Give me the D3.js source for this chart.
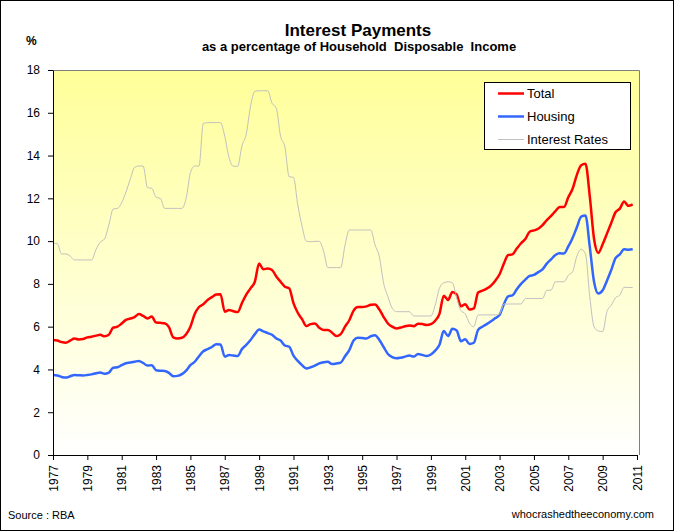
<!DOCTYPE html>
<html>
<head>
<meta charset="utf-8">
<script src="https://cdn.jsdelivr.net/npm/d3@7"></script>
<style>
body { margin: 0; background: #fff; }
svg { display: block; font-family: "Liberation Sans", Arial, sans-serif; }
</style>
</head>
<body>
<svg width="674" height="531"></svg>
<script>
// quarterly values, one row per year, starting 1977 Q1
var startYear = 1977

var total = [
    5.38, 5.35, 5.28, 5.25,   // 1977
    5.35, 5.45, 5.40, 5.42,
    5.50, 5.53, 5.58, 5.62,
    5.55, 5.62, 5.95, 6.00,   // 1980
    6.15, 6.32, 6.38, 6.45,
    6.59, 6.50, 6.38, 6.47,
    6.19, 6.18, 6.16, 5.98,
    5.50, 5.45, 5.48, 5.65,
    6.00, 6.59, 6.92, 7.05,   // 1985
    7.25, 7.38, 7.50, 7.52,
    6.70, 6.78, 6.72, 6.68,
    7.10, 7.50, 7.79, 8.10,
    8.95, 8.68, 8.72, 8.65,
    8.35, 8.10, 7.87, 7.80,   // 1990
    7.10, 6.65, 6.35, 6.03,
    6.12, 6.15, 5.95, 5.85,
    5.85, 5.72, 5.56, 5.65,
    6.00, 6.30, 6.75, 6.92,
    6.92, 6.95, 7.02, 7.04,   // 1995
    6.80, 6.45, 6.15, 6.00,
    5.92, 5.96, 6.02, 6.06,
    6.02, 6.14, 6.12, 6.08,
    6.12, 6.28, 6.60, 7.45,
    7.25, 7.62, 7.50, 6.95,   // 2000
    7.05, 6.80, 6.85, 7.60,
    7.68, 7.78, 7.92, 8.15,
    8.45, 8.95, 9.35, 9.38,
    9.65, 9.90, 10.10, 10.44,
    10.50, 10.58, 10.75, 10.98, // 2005
    11.18, 11.40, 11.60, 11.60,
    12.05, 12.45, 13.10, 13.55,
    13.62, 12.10, 10.10, 9.45,
    9.85, 10.35, 10.85, 11.35,
    11.52, 11.85, 11.65, 11.72  // 2010
]

var housing = [
    3.74, 3.72, 3.65, 3.62,   // 1977
    3.68, 3.74, 3.73, 3.72,
    3.74, 3.77, 3.82, 3.86,
    3.80, 3.85, 4.08, 4.10,   // 1980
    4.20, 4.29, 4.32, 4.36,
    4.40, 4.30, 4.18, 4.20,
    3.96, 3.94, 3.93, 3.84,
    3.68, 3.70, 3.78, 3.95,
    4.20, 4.36, 4.62, 4.85,   // 1985
    4.95, 5.05, 5.18, 5.17,
    4.60, 4.67, 4.65, 4.63,
    4.95, 5.15, 5.38, 5.65,
    5.87, 5.78, 5.70, 5.62,
    5.45, 5.35, 5.12, 5.06,   // 1990
    4.65, 4.40, 4.20, 4.05,
    4.10, 4.18, 4.28, 4.34,
    4.36, 4.25, 4.28, 4.32,
    4.62, 4.90, 5.35, 5.48,
    5.47, 5.45, 5.55, 5.60,   // 1995
    5.38, 5.05, 4.72, 4.58,
    4.52, 4.55, 4.60, 4.65,
    4.60, 4.72, 4.68, 4.63,
    4.70, 4.88, 5.15, 5.80,
    5.56, 5.90, 5.82, 5.32,   // 2000
    5.41, 5.19, 5.25, 5.85,
    6.00, 6.12, 6.25, 6.40,
    6.55, 7.05, 7.42, 7.46,
    7.75, 8.00, 8.20, 8.37,
    8.42, 8.55, 8.68, 8.95,   // 2005
    9.15, 9.35, 9.43, 9.42,
    9.75, 10.15, 10.65, 11.15,
    11.20, 9.74, 8.10, 7.55,
    7.70, 8.15, 8.65, 9.20,
    9.38, 9.62, 9.60, 9.62    // 2010
]

var rates = [
    9.90, 9.88, 9.40, 9.40,   // 1977
    9.30, 9.12, 9.12, 9.12,
    9.12, 9.12, 9.60, 9.95,
    10.10, 10.75, 11.50, 11.53, // 1980
    11.80, 12.30, 12.90, 13.45,
    13.51, 13.51, 12.50, 12.47,
    12.05, 12.00, 11.53, 11.53,
    11.53, 11.53, 11.53, 12.00,
    13.20, 13.51, 13.51, 15.50, // 1985
    15.54, 15.54, 15.54, 15.54,
    14.90, 13.90, 13.50, 13.50,
    14.45, 15.00, 16.30, 17.00,
    17.03, 17.03, 17.03, 16.45,
    16.21, 14.90, 14.41, 13.01, // 1990
    12.98, 11.70, 10.70, 10.00,
    9.97, 9.99, 9.99, 9.55,
    8.76, 8.76, 8.76, 8.76,
    9.80, 10.52, 10.52, 10.52,
    10.52, 10.52, 10.52, 9.82,  // 1995
    9.27, 8.03, 7.40, 6.86,
    6.70, 6.70, 6.70, 6.70,
    6.50, 6.50, 6.50, 6.50,
    6.50, 7.00, 7.80, 8.05,
    8.10, 8.05, 7.35, 6.75,    // 2000
    6.60, 6.15, 6.00, 6.55,
    6.55, 6.55, 6.55, 6.55,
    6.59, 7.06, 7.06, 7.06,
    7.06, 7.06, 7.32, 7.32,
    7.32, 7.32, 7.32, 7.70,    // 2005
    7.71, 8.10, 8.10, 8.10,
    8.40, 8.57, 9.30, 9.62,
    9.40, 7.40, 6.00, 5.80,
    5.77, 6.70, 7.00, 7.35,
    7.48, 7.84, 7.83, 7.83     // 2010
]

var yearTicks = [1977, 1979, 1981, 1983, 1985, 1987, 1989, 1991, 1993, 1995,
    1997, 1999, 2001, 2003, 2005, 2007, 2009, 2011]
var valueTicks = [0, 2, 4, 6, 8, 10, 12, 14, 16, 18]

var series = [
    { name: "Total", values: total, color: "#ff0000", width: 2.5 },
    { name: "Housing", values: housing, color: "#3366ff", width: 2.5 },
    { name: "Interest Rates", values: rates, color: "#c0c0c0", width: 1 }
]

var svg = d3.select("svg"),
    margin = { top: 70, right: 35, bottom: 76, left: 53 },
    width = svg.attr("width") - margin.left - margin.right,
    height = svg.attr("height") - margin.top - margin.bottom

// outer frame
svg.append("rect")
    .attr("x", 0.5).attr("y", 0.5)
    .attr("width", 673).attr("height", 530)
    .attr("fill", "#fff")
    .attr("stroke", "#000")

var grad = svg.append("defs").append("linearGradient")
    .attr("id", "bg")
    .attr("x1", 0).attr("y1", 0).attr("x2", 0).attr("y2", 1)
grad.append("stop").attr("offset", "0%").attr("stop-color", "#ffff99")
grad.append("stop").attr("offset", "100%").attr("stop-color", "#ffffff")

var g = svg.append("g").attr("transform", "translate(" + margin.left + "," + margin.top + ")")

var x = d3.scaleLinear()
    .domain([1977, 2011])
    .range([0, width - 2])

var y = d3.scaleLinear()
    .domain([0, 18])
    .range([height, 0])

g.append("rect")
    .attr("width", width).attr("height", height)
    .attr("fill", "url(#bg)")

g.append("path")
    .attr("d", "M0,0.5H" + (width + 0.5) + "V" + height)
    .attr("fill", "none")
    .attr("stroke", "#808080")

var line = d3.line()
    .x(function (d, i) { return x(startYear + i / 4) })
    .y(function (d) { return y(d) })
    .curve(d3.curveMonotoneX)

series.forEach(function (s) {
    g.append("path")
        .datum(s.values)
        .attr("fill", "none")
        .attr("stroke", s.color)
        .attr("stroke-width", s.width)
        .attr("stroke-linejoin", "round")
        .attr("d", line)
})

var yAxis = g.append("g")
    .call(d3.axisLeft(y).tickValues(valueTicks).tickSize(5).tickSizeOuter(0).tickPadding(8))
yAxis.selectAll("text").attr("font-size", 12).attr("fill", "#000").attr("font-family", null)
yAxis.selectAll("line, path").attr("stroke", "#000")

var xAxis = g.append("g")
    .attr("transform", "translate(0," + height + ")")
    .call(d3.axisBottom(x).tickValues(yearTicks).tickFormat(d3.format("d")).tickSize(5).tickSizeOuter(0))
xAxis.selectAll("text")
    .attr("font-size", 12).attr("fill", "#000").attr("font-family", null)
    .attr("transform", "rotate(-90)")
    .attr("text-anchor", "end")
    .attr("x", -10).attr("y", 0)
    .attr("dy", "0.35em")
xAxis.selectAll("line, path").attr("stroke", "#000")

// titles
svg.append("text")
    .attr("x", 358).attr("y", 36)
    .attr("text-anchor", "middle")
    .attr("font-size", 17).attr("font-weight", "bold")
    .text("Interest Payments")

svg.append("text")
    .attr("x", 359).attr("y", 51)
    .attr("text-anchor", "middle")
    .attr("font-size", 13).attr("font-weight", "bold")
    .style("white-space", "pre")
    .text("as a percentage of Household  Disposable  Income")

svg.append("text")
    .attr("x", 26).attr("y", 45)
    .attr("font-size", 12).attr("font-weight", "bold")
    .text("%")

svg.append("text")
    .attr("x", 8).attr("y", 519)
    .attr("font-size", 11)
    .text("Source : RBA")

svg.append("text")
    .attr("x", 654).attr("y", 518)
    .attr("text-anchor", "end")
    .attr("font-size", 11)
    .text("whocrashedtheeconomy.com")

// legend
var legend = svg.append("g").attr("transform", "translate(484,82)")
legend.append("rect")
    .attr("x", 0.5).attr("y", 0.5)
    .attr("width", 146).attr("height", 67)
    .attr("fill", "#fff").attr("stroke", "#000")

series.forEach(function (s, i) {
    var ly = 11.5 + i * 23
    legend.append("line")
        .attr("x1", 14).attr("x2", 40)
        .attr("y1", ly).attr("y2", ly)
        .attr("stroke", s.color)
        .attr("stroke-width", s.width)
    legend.append("text")
        .attr("x", 43).attr("y", ly + 4.5)
        .attr("font-size", 13)
        .text(s.name)
})
</script>
</body>
</html>
